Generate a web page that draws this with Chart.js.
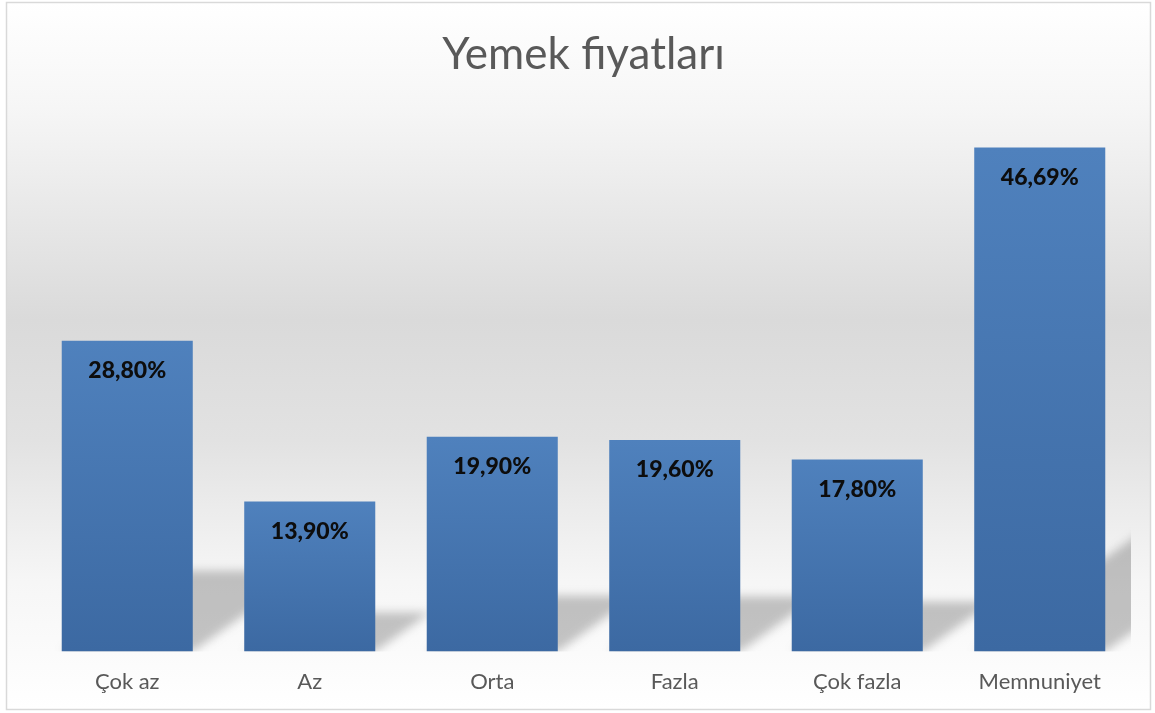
<!DOCTYPE html>
<html>
<head>
<meta charset="utf-8">
<script src="https://cdn.jsdelivr.net/npm/chart.js@4/dist/chart.umd.min.js"></script>
<style>
    html, body { margin: 0; padding: 0; background: #ffffff; }
    #wrap { width: 1155px; height: 713px; position: relative; }
</style>
</head>
<body>
<div id="wrap"><canvas id="priceChart"></canvas></div>
<script>
const categories = ["Çok az", "Az", "Orta", "Fazla", "Çok fazla", "Memnuniyet"]
const percentages = [28.80, 13.90, 19.90, 19.60, 17.80, 46.69]
const chartTitle = "Yemek fiyatları"

const fontFamily = "Lato, 'Open Sans', sans-serif"

function formatPercent(value) {
    return value.toFixed(2).replace(".", ",") + "%"
}

// panel background + thin border, like the office chart frame
const backgroundPlugin = {
    id: "panelBackground",
    beforeDraw(chart) {
        const { ctx, width, height } = chart
        const grad = ctx.createLinearGradient(0, 2, 0, 709)
        grad.addColorStop(0, "#ffffff")
        grad.addColorStop(0.15, "#f6f6f6")
        grad.addColorStop(0.45, "#dadada")
        grad.addColorStop(0.62, "#e2e2e2")
        grad.addColorStop(0.82, "#f6f6f6")
        grad.addColorStop(1, "#ffffff")
        ctx.save()
        ctx.fillStyle = "#ffffff"
        ctx.fillRect(0, 0, width, height)
        ctx.fillStyle = grad
        ctx.fillRect(7, 3, 1143, 706)
        ctx.strokeStyle = "#d9d9d9"
        ctx.lineWidth = 1.5
        ctx.strokeRect(6.5, 2.5, 1144, 707)
        ctx.restore()
    }
}

// soft perspective shadow behind each bar
const shadowPlugin = {
    id: "barShadows",
    beforeDatasetsDraw(chart) {
        const { ctx, chartArea } = chart
        const meta = chart.getDatasetMeta(0)
        ctx.save()
        ctx.beginPath()
        ctx.rect(chartArea.left - 40, chartArea.top, chartArea.right - chartArea.left + 40, chartArea.bottom - chartArea.top)
        ctx.clip()
        ctx.filter = "blur(5px)"
        ctx.fillStyle = "rgba(90, 90, 90, 0.35)"
        meta.data.forEach((bar) => {
            const half = bar.width / 2
            const left = bar.x - half
            const right = bar.x + half
            const bottom = bar.base
            const h = bottom - bar.y
            const sh = h * 0.26
            const dx = sh * 1.4
            ctx.beginPath()
            ctx.moveTo(left, bottom)
            ctx.lineTo(right, bottom)
            ctx.lineTo(right + dx, bottom - sh)
            ctx.lineTo(left + dx, bottom - sh)
            ctx.closePath()
            ctx.fill()
        })
        ctx.restore()
    }
}

// value labels sitting inside the top of each bar
const valueLabelPlugin = {
    id: "valueLabels",
    afterDatasetsDraw(chart) {
        const { ctx } = chart
        const meta = chart.getDatasetMeta(0)
        ctx.save()
        ctx.font = "900 23px " + fontFamily
        ctx.fillStyle = "#0d0d0d"
        ctx.textAlign = "center"
        ctx.textBaseline = "middle"
        meta.data.forEach((bar, i) => {
            ctx.fillText(formatPercent(percentages[i]), bar.x, bar.y + 30)
        })
        ctx.restore()
    }
}

function barGradient(context) {
    const chart = context.chart
    if (!chart.chartArea || context.type !== "data") return "#4a7ab7"
    const y = chart.scales.y
    const top = y.getPixelForValue(context.parsed.y)
    const bottom = y.getPixelForValue(0)
    const grad = chart.ctx.createLinearGradient(0, top, 0, bottom)
    grad.addColorStop(0, "#4f81bd")
    grad.addColorStop(1, "#3c69a2")
    return grad
}

const ctx = document.getElementById("priceChart")

new Chart(ctx, {
    type: "bar",
    data: {
        labels: categories,
        datasets: [{
            label: chartTitle,
            data: percentages,
            backgroundColor: barGradient,
            borderWidth: 0,
            barPercentage: 0.718,
            categoryPercentage: 1
        }]
    },
    options: {
        responsive: true,
        maintainAspectRatio: false,
        animation: false,
        layout: {
            padding: { left: 36, right: 24, top: 0, bottom: 0 }
        },
        plugins: {
            legend: { display: false },
            tooltip: { enabled: false },
            title: {
                display: true,
                text: chartTitle,
                color: "#595959",
                font: { family: fontFamily, size: 44, weight: "normal" },
                padding: { top: 28, bottom: 31 }
            }
        },
        scales: {
            x: {
                grid: { display: false, drawTicks: false },
                border: { display: false },
                ticks: {
                    color: "#595959",
                    font: { family: fontFamily, size: 22 },
                    padding: 17.5
                }
            },
            y: {
                min: 0,
                max: 50,
                display: false
            }
        }
    },
    plugins: [backgroundPlugin, shadowPlugin, valueLabelPlugin]
})
</script>
</body>
</html>
